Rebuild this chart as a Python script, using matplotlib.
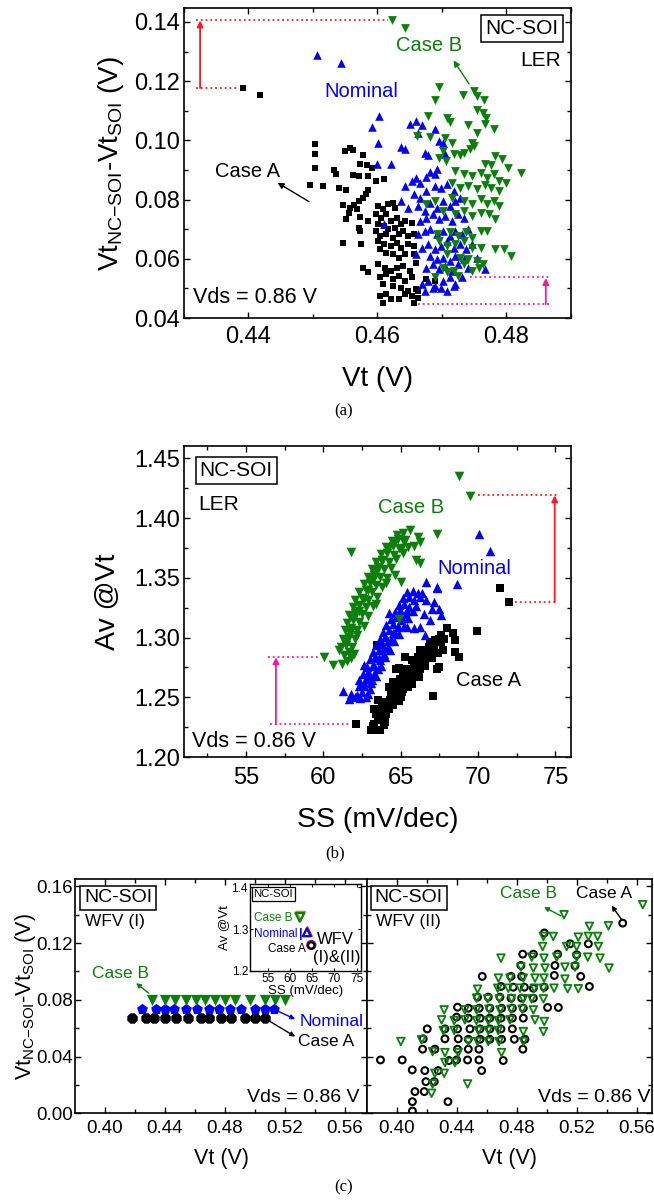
import numpy as np
import matplotlib
matplotlib.use('Agg')
import matplotlib.pyplot as plt
from matplotlib.ticker import MultipleLocator

plt.rcParams['font.family'] = ['Liberation Sans', 'DejaVu Sans']
plt.rcParams['mathtext.fontset'] = 'custom'
plt.rcParams['mathtext.rm'] = 'Liberation Sans'
plt.rcParams['mathtext.it'] = 'Liberation Sans:italic'
plt.rcParams['mathtext.bf'] = 'Liberation Sans:bold'

GREEN = '#0a800a'
BLUE = '#0000ff'
RED = '#ff1a1a'
PINK = '#ff1493'

# ---------------- Panel (a): Vt vs dVt (LER) ----------------
a_caseA = [(0.4392,0.1177),(0.4418,0.1155),
 (0.4503,0.0989),(0.4503,0.0953),(0.4503,0.0908),(0.4495,0.0849),(0.4516,0.0846),
 (0.4532,0.0900),(0.4536,0.0885),(0.4540,0.0840),(0.4551,0.0831),
 (0.4558,0.0975),(0.4549,0.0964),(0.4562,0.0966),(0.4578,0.0950),
 (0.4573,0.0921),(0.4584,0.0917),(0.4591,0.0908),
 (0.4562,0.0883),(0.4571,0.0880),(0.4585,0.0880),
 (0.4598,0.0863),(0.4610,0.0868),
 (0.4586,0.0831),(0.4582,0.0818),(0.4577,0.0807),(0.4572,0.0795),(0.4564,0.0782),(0.4558,0.0773),
 (0.4546,0.0782),(0.4556,0.0756),(0.4551,0.0733),
 (0.4569,0.0767),(0.4573,0.0741),(0.4585,0.0728),
 (0.4546,0.0655),(0.4575,0.0649),
 (0.4572,0.0705),(0.4573,0.0694),
 (0.4601,0.0778),(0.4608,0.0767),(0.4617,0.0784),(0.4624,0.0790),(0.4627,0.0773),
 (0.4598,0.0750),(0.4605,0.0739),(0.4614,0.0750),(0.4621,0.0728),(0.4630,0.0739),
 (0.4601,0.0719),(0.4610,0.0711),(0.4617,0.0700),(0.4627,0.0705),(0.4636,0.0717),(0.4643,0.0728),(0.4653,0.0722),
 (0.4598,0.0694),(0.4604,0.0677),(0.4614,0.0683),(0.4624,0.0672),(0.4634,0.0683),(0.4640,0.0694),(0.4647,0.0677),(0.4656,0.0683),
 (0.4601,0.0660),(0.4610,0.0649),(0.4621,0.0644),(0.4630,0.0655),(0.4637,0.0638),(0.4647,0.0649),(0.4656,0.0644),
 (0.4604,0.0632),(0.4614,0.0621),(0.4624,0.0615),(0.4634,0.0604),(0.4643,0.0615),(0.4656,0.0615),
 (0.4578,0.0570),(0.4586,0.0554),(0.4601,0.0582),(0.4611,0.0570),(0.4621,0.0559),(0.4630,0.0570),(0.4640,0.0576),(0.4650,0.0559),(0.4660,0.0587),
 (0.4604,0.0537),(0.4614,0.0548),(0.4624,0.0531),(0.4634,0.0542),(0.4643,0.0526),(0.4653,0.0537),
 (0.4608,0.0514),(0.4624,0.0509),(0.4637,0.0503),(0.4647,0.0492),(0.4660,0.0497),
 (0.4604,0.0475),(0.4614,0.0481),(0.4621,0.0464),(0.4634,0.0464),(0.4643,0.0481),(0.4653,0.0475),(0.4663,0.0492),(0.4663,0.0469),(0.4656,0.0452),
 (0.4608,0.0452),(0.4676,0.0531),(0.4689,0.0526)]

a_nominal = [(0.4507,0.1290),(0.4543,0.1260),
 (0.4603,0.1082),(0.4591,0.1045),(0.4601,0.0992),(0.4600,0.0921),(0.4621,0.0921),
 (0.4650,0.1056),(0.4660,0.1067),(0.4669,0.1052),(0.4689,0.1037),(0.4663,0.1026),
 (0.4637,0.0979),(0.4642,0.0970),(0.4673,0.0958),(0.4679,0.0950),(0.4695,0.0998),(0.4702,0.0992),(0.4705,0.0953),
 (0.4642,0.0846),(0.4653,0.0863),(0.4660,0.0874),(0.4666,0.0857),(0.4676,0.0876),(0.4682,0.0894),(0.4689,0.0885),(0.4692,0.0902),
 (0.4637,0.0795),(0.4656,0.0818),(0.4666,0.0807),(0.4676,0.0829),(0.4689,0.0846),(0.4699,0.0840),(0.4708,0.0854),(0.4718,0.0829),
 (0.4647,0.0773),(0.4663,0.0778),(0.4673,0.0762),(0.4682,0.0790),(0.4692,0.0773),(0.4702,0.0795),(0.4712,0.0778),(0.4721,0.0795),(0.4728,0.0807),
 (0.4610,0.0719),(0.4666,0.0728),(0.4676,0.0739),(0.4686,0.0750),(0.4695,0.0733),(0.4705,0.0745),(0.4715,0.0728),(0.4725,0.0750),(0.4734,0.0739),
 (0.4663,0.0683),(0.4673,0.0694),(0.4682,0.0700),(0.4692,0.0683),(0.4702,0.0694),(0.4712,0.0677),(0.4721,0.0694),(0.4731,0.0683),(0.4741,0.0700),
 (0.4669,0.0638),(0.4679,0.0649),(0.4689,0.0632),(0.4699,0.0644),(0.4708,0.0660),(0.4718,0.0638),(0.4728,0.0649),(0.4737,0.0632),(0.4747,0.0649),
 (0.4660,0.0615),(0.4682,0.0610),(0.4692,0.0599),(0.4702,0.0604),(0.4712,0.0593),(0.4721,0.0610),(0.4734,0.0599),(0.4754,0.0604),
 (0.4676,0.0570),(0.4686,0.0582),(0.4695,0.0565),(0.4705,0.0576),(0.4715,0.0559),(0.4725,0.0582),(0.4741,0.0570),(0.4767,0.0565),
 (0.4669,0.0514),(0.4679,0.0526),(0.4689,0.0509),(0.4702,0.0526),(0.4712,0.0537),(0.4721,0.0514),(0.4731,0.0537),
 (0.4673,0.0492),(0.4686,0.0503),(0.4699,0.0503),(0.4708,0.0492),(0.4718,0.0509)]

a_caseB = [(0.4623,0.1408),(0.4643,0.1378),
 (0.4695,0.1180),(0.4689,0.1138),(0.4733,0.1153),(0.4750,0.1168),(0.4754,0.1149),(0.4765,0.1135),
 (0.4679,0.1082),(0.4708,0.1076),(0.4713,0.1063),(0.4754,0.1101),(0.4763,0.1093),(0.4768,0.1076),(0.4741,0.1052),(0.4767,0.1056),(0.4781,0.1039),(0.4754,0.1026),
 (0.4662,0.1014),(0.4682,0.1011),(0.4705,0.1007),(0.4715,0.0992),(0.4746,0.0992),(0.4749,0.0981),(0.4744,0.0970),
 (0.4702,0.0964),(0.4718,0.0953),(0.4728,0.0950),(0.4734,0.0958),(0.4695,0.0941),(0.4707,0.0930),
 (0.4783,0.0947),(0.4793,0.0936),(0.4767,0.0921),(0.4776,0.0917),(0.4802,0.0908),(0.4822,0.0891),
 (0.4721,0.0896),(0.4734,0.0885),(0.4747,0.0880),(0.4760,0.0891),(0.4770,0.0874),(0.4780,0.0885),(0.4789,0.0863),(0.4799,0.0857),
 (0.4715,0.0857),(0.4728,0.0840),(0.4741,0.0846),(0.4754,0.0835),(0.4767,0.0851),(0.4776,0.0840),(0.4789,0.0829),
 (0.4676,0.0784),(0.4689,0.0795),(0.4715,0.0807),(0.4734,0.0795),(0.4747,0.0784),(0.4760,0.0801),(0.4770,0.0784),(0.4780,0.0795),(0.4789,0.0778),
 (0.4702,0.0762),(0.4721,0.0750),(0.4734,0.0762),(0.4747,0.0745),(0.4760,0.0756),(0.4773,0.0750),(0.4783,0.0733),
 (0.4692,0.0683),(0.4712,0.0689),(0.4725,0.0677),(0.4737,0.0689),(0.4747,0.0672),(0.4760,0.0694),(0.4770,0.0694),
 (0.4695,0.0660),(0.4708,0.0644),(0.4721,0.0649),(0.4734,0.0660),(0.4747,0.0638),(0.4760,0.0638),(0.4783,0.0632),(0.4796,0.0632),(0.4807,0.0610),
 (0.4708,0.0615),(0.4728,0.0604),(0.4741,0.0599),(0.4754,0.0593),(0.4763,0.0582),
 (0.4702,0.0570),(0.4718,0.0559),(0.4734,0.0582),(0.4747,0.0559),(0.4757,0.0570),
 (0.4689,0.0537),(0.4708,0.0554),(0.4725,0.0542)]

# ---------------- Panel (b): SS vs Av (LER) ----------------
b_caseA = [(71.41,1.3416),(72.03,1.3299),(69.93,1.3053),(67.10,1.2509),(62.14,1.2274),
 (63.09,1.2229),(63.41,1.2224),(63.68,1.2229),(63.27,1.2279),(63.54,1.2307),(63.89,1.2321),(63.41,1.2363),(63.73,1.2391),(64.08,1.2363),(64.22,1.2405),(63.81,1.2447),(64.16,1.2461),(64.49,1.2433),(63.54,1.2475),(64.62,1.2489),(64.35,1.2525),(64.76,1.2531),(65.03,1.2503),(64.22,1.2587),(64.62,1.2573),(64.89,1.2601),(65.16,1.2573),(65.29,1.2615),(64.49,1.2629),(64.97,1.2657),(65.43,1.2643),(65.70,1.2615),(65.16,1.2685),(65.56,1.2698),(65.83,1.2671),(66.10,1.2712),(64.89,1.2749),(65.43,1.2740),(65.83,1.2754),(66.24,1.2740),(66.37,1.2782),(65.97,1.2796),(65.70,1.2816),(66.10,1.2838),(66.51,1.2824),(66.78,1.2866),(66.37,1.2880),(66.64,1.2900),(66.91,1.2922),(67.18,1.2894),(67.05,1.2950),(67.32,1.2964),(67.45,1.2992),(67.59,1.3020),(66.91,1.2964),(67.32,1.2740),(67.45,1.2754),(67.99,1.3076),(68.39,1.3034),(68.53,1.2978),(68.48,1.2880),(68.80,1.2838),(65.29,1.2838),(66.24,1.2894),(63.49,1.2936),(64.70,1.2740),(67.72,1.2894),
 (63.2,1.226),(63.6,1.234),(63.9,1.238),(64.0,1.246),(64.3,1.248),(64.5,1.254),(64.7,1.258),(65.0,1.262),(65.2,1.264),(65.4,1.268),(65.6,1.272),(65.9,1.276),(66.0,1.280),(66.3,1.284),(66.5,1.286),(66.8,1.292),(67.0,1.294),(67.2,1.298),(64.0,1.229),(63.9,1.2265),(65.1,1.2545),(65.5,1.259),(66.6,1.276),(67.0,1.283),(67.4,1.287),(63.3,1.2405),(64.9,1.247),(66.2,1.267),(67.6,1.296),(67.8,1.299)]

b_nominal = [(70.07,1.3863),(70.74,1.3726),(68.66,1.3447),(66.64,1.3461),(67.32,1.3425),(67.37,1.3411),
 (61.25,1.2553),(61.66,1.2489),(62.06,1.2503),(62.38,1.2497),(62.73,1.2503),(62.87,1.2531),(62.47,1.2545),(62.28,1.2592),(62.65,1.2592),(63.00,1.2573),(62.33,1.2643),(62.73,1.2657),(63.14,1.2643),(62.55,1.2698),(62.92,1.2712),(63.27,1.2698),(62.82,1.2754),(63.19,1.2768),(63.54,1.2740),(63.00,1.2824),(63.35,1.2838),(63.68,1.2810),(63.22,1.2880),(63.60,1.2894),(63.95,1.2866),(63.41,1.2936),(63.81,1.2950),(64.16,1.2922),(63.68,1.2992),(64.00,1.3006),(64.35,1.2978),(63.89,1.3048),(64.22,1.3062),(64.62,1.3034),(64.08,1.3103),(64.49,1.3117),(64.81,1.3089),(64.35,1.3159),(64.70,1.3173),(65.03,1.3145),(64.62,1.3215),(64.97,1.3229),(65.29,1.3201),(64.89,1.3271),(65.24,1.3285),(65.56,1.3257),(65.16,1.3327),(65.51,1.3341),(65.83,1.3313),(65.43,1.3383),(65.78,1.3391),(66.10,1.3369),(66.24,1.3341),(66.37,1.3369),(66.64,1.3313),(67.18,1.3299),(67.45,1.3243),(67.05,1.3243),(67.59,1.3187),(66.24,1.3089),(65.83,1.3076),(65.43,1.3089),(64.22,1.3207),(62.60,1.2768),
 (63.1,1.262),(63.4,1.268),(63.7,1.276),(64.0,1.284),(64.3,1.290),(64.6,1.297),(64.9,1.303),(65.2,1.310),(65.5,1.316),(65.8,1.322),(66.0,1.326),(62.2,1.252),(62.6,1.262),(63.0,1.268),(63.3,1.276),(63.6,1.283),(63.9,1.291),(64.2,1.297),(64.5,1.304),(64.8,1.310),(65.1,1.316),(65.4,1.322),(66.5,1.320),(66.9,1.315),(66.6,1.302),(61.8,1.253)]

b_caseB = [(68.80,1.4352),(69.47,1.4184),(61.79,1.3718),(67.37,1.3866),(64.89,1.3159),
 (60.04,1.2838),(60.63,1.2768),(61.20,1.2782),(61.52,1.2805),(61.79,1.2833),(61.31,1.2852),(61.66,1.2880),(62.01,1.2866),(61.12,1.2922),(61.47,1.2936),(61.85,1.2922),(61.25,1.2992),(61.66,1.3006),(62.06,1.2992),(61.39,1.3062),(61.79,1.3076),(62.20,1.3062),(61.52,1.3123),(61.93,1.3145),(62.33,1.3131),(61.66,1.3187),(62.06,1.3207),(62.47,1.3201),(61.93,1.3257),(62.33,1.3271),(62.73,1.3257),(62.06,1.3313),(62.47,1.3327),(62.87,1.3313),(62.33,1.3383),(62.73,1.3397),(63.14,1.3383),(62.60,1.3447),(63.00,1.3458),(63.41,1.3439),(62.87,1.3508),(63.27,1.3522),(63.68,1.3508),(63.14,1.3570),(63.54,1.3587),(63.95,1.3570),(63.41,1.3634),(63.81,1.3648),(64.22,1.3634),(63.73,1.3698),(64.14,1.3710),(64.54,1.3690),(64.08,1.3760),(64.49,1.3765),(64.89,1.3746),(64.43,1.3810),(64.81,1.3821),(65.24,1.3802),(64.76,1.3858),(65.16,1.3872),(65.62,1.3900),(66.10,1.3844),(66.24,1.3802),(65.83,1.3765),(65.16,1.3704),(65.97,1.3648),(66.24,1.3620),(65.03,1.3467),(64.62,1.3522),(64.08,1.3453),(63.41,1.3285),
 (62.2,1.302),(62.6,1.310),(62.9,1.318),(63.2,1.326),(63.5,1.334),(63.8,1.342),(64.1,1.350),(64.4,1.358),(64.7,1.366),(65.0,1.374),(65.3,1.382),(61.0,1.290),(61.4,1.296),(61.7,1.304),(62.0,1.316),(62.3,1.322),(62.6,1.332),(62.9,1.340),(63.2,1.348),(63.5,1.356),(63.8,1.364),(64.2,1.374),(64.6,1.380),(65.5,1.376)]

# ---------------- Panel (c) left: WFV (I) ----------------
c1_caseA_vt = [0.4184,0.4273,0.4329,0.4399,0.4474,0.4557,0.4641,0.4697,0.4772,0.4842,0.4934,0.5003,0.5065]
c1_caseA_dvt = [0.0671]*13
c1_nominal_vt = [0.4251,0.4340,0.4399,0.4463,0.4538,0.4613,0.4697,0.4764,0.4831,0.4906,0.4998,0.5068,0.5129]
c1_nominal_dvt = [0.0736]*13
c1_caseB_vt = [0.4315,0.4404,0.4468,0.4538,0.4605,0.4669,0.4733,0.4800,0.4867,0.4967,0.5065,0.5132,0.5199]
c1_caseB_dvt = [0.0800]*13

# inset: SS vs Av for WFV (I) and (II)
inset_ss_I = [62.4, 63.9, 64.8]
inset_av_I = [1.331, 1.294, 1.262]
inset_ss_II = [62.2, 63.8, 64.8]
inset_av_II = [1.328, 1.292, 1.261]

# ---------------- Panel (c) right: WFV (II) ----------------
c2_caseA = [(0.5506,0.1341),(0.4983,0.1271),(0.5155,0.1195),(0.5277,0.1195),(0.4839,0.1122),(0.4910,0.1122),(0.5072,0.1122),(0.5199,0.1118),
 (0.4827,0.1042),(0.5054,0.1042),(0.5188,0.1040),(0.4569,0.0965),(0.4761,0.0965),(0.4832,0.0965),(0.5050,0.0972),(0.5226,0.0965),
 (0.4694,0.0894),(0.4776,0.0889),(0.4850,0.0889),(0.4910,0.0882),(0.4983,0.0889),(0.5284,0.0894),
 (0.4538,0.0819),(0.4609,0.0819),(0.4687,0.0819),(0.4761,0.0812),(0.4832,0.0812),(0.4910,0.0812),(0.5005,0.0746),(0.5077,0.0746),
 (0.4404,0.0748),(0.4476,0.0741),(0.4549,0.0741),(0.4620,0.0741),(0.4698,0.0741),(0.4770,0.0741),(0.4843,0.0741),
 (0.4398,0.0678),(0.4476,0.0671),(0.4554,0.0671),(0.4620,0.0671),(0.4694,0.0671),(0.4770,0.0671),(0.4843,0.0671),
 (0.4202,0.0595),(0.4320,0.0595),(0.4404,0.0595),(0.4487,0.0595),(0.4554,0.0595),(0.4620,0.0595),(0.4694,0.0595),(0.4770,0.0595),
 (0.4175,0.0525),(0.4320,0.0525),(0.4409,0.0525),(0.4476,0.0522),(0.4554,0.0522),(0.4620,0.0522),(0.4698,0.0522),(0.4783,0.0522),(0.4854,0.0522),
 (0.4171,0.0452),(0.4253,0.0452),(0.4404,0.0452),(0.4476,0.0452),(0.4547,0.0452),(0.4840,0.0452),
 (0.3890,0.0376),(0.4035,0.0376),(0.4347,0.0372),(0.4398,0.0376),(0.4471,0.0376),(0.4547,0.0376),(0.4709,0.0372),
 (0.4102,0.0306),(0.4186,0.0301),(0.4275,0.0301),(0.4565,0.0301),(0.4193,0.0223),(0.4249,0.0223),
 (0.4120,0.0153),(0.4182,0.0153),(0.4103,0.0082),(0.4103,0.0016),(0.4340,0.0082)]

c2_caseB = [(0.5640,0.1471),(0.5115,0.1400),(0.5284,0.1318),(0.5411,0.1322),(0.4977,0.1247),(0.5043,0.1247),(0.5210,0.1242),(0.5277,0.1247),(0.5339,0.1247),
 (0.4972,0.1176),(0.5132,0.1176),(0.5199,0.1176),(0.5344,0.1176),
 (0.4899,0.1101),(0.4981,0.1094),(0.5066,0.1101),(0.5199,0.1101),(0.5273,0.1101),(0.5355,0.1094),(0.4694,0.1094),
 (0.4827,0.1031),(0.4910,0.1024),(0.4988,0.1024),(0.5121,0.1031),(0.5188,0.1031),(0.5415,0.1024),
 (0.4677,0.0953),(0.4754,0.0953),(0.4843,0.0953),(0.4921,0.0953),(0.4981,0.0953),(0.5121,0.0946),
 (0.4672,0.0882),(0.4743,0.0882),(0.4821,0.0882),(0.4916,0.0882),(0.4977,0.0882),(0.5048,0.0882),(0.5139,0.0878),(0.5210,0.0878),(0.4538,0.0875),
 (0.4531,0.0812),(0.4605,0.0807),(0.4683,0.0807),(0.4765,0.0807),(0.4843,0.0807),(0.4899,0.0807),(0.4977,0.0807),
 (0.4315,0.0729),(0.4453,0.0729),(0.4531,0.0729),(0.4614,0.0734),(0.4687,0.0729),(0.4761,0.0734),(0.4836,0.0734),(0.4910,0.0729),
 (0.4298,0.0659),(0.4382,0.0654),(0.4453,0.0659),(0.4531,0.0654),(0.4609,0.0654),(0.4676,0.0654),(0.4754,0.0659),(0.4921,0.0659),(0.4983,0.0647),
 (0.4309,0.0584),(0.4382,0.0584),(0.4543,0.0584),(0.4609,0.0584),(0.4676,0.0584),(0.4843,0.0576),(0.4977,0.0576),
 (0.4164,0.0518),(0.4026,0.0506),(0.4238,0.0435),(0.4320,0.0428),(0.4409,0.0428),(0.4476,0.0506),(0.4538,0.0506),(0.4609,0.0506),(0.4681,0.0506),(0.4843,0.0506),(0.4698,0.0428),
 (0.4320,0.0358),(0.4387,0.0358),(0.4253,0.0282),(0.4315,0.0282),(0.4471,0.0207),(0.4238,0.0207),(0.4231,0.0141)]


def style(ax, xmaj, xmin, ymaj, ymin, lsize, xpad, ypad):
    ax.xaxis.set_major_locator(MultipleLocator(xmaj))
    ax.xaxis.set_minor_locator(MultipleLocator(xmin))
    ax.yaxis.set_major_locator(MultipleLocator(ymaj))
    ax.yaxis.set_minor_locator(MultipleLocator(ymin))
    ax.tick_params(which='both', direction='in', top=True, right=True, width=1.0)
    ax.tick_params(which='major', length=4.5, labelsize=lsize)
    ax.tick_params(which='minor', length=3)
    ax.tick_params(axis='x', pad=xpad)
    ax.tick_params(axis='y', pad=ypad)
    for s in ax.spines.values():
        s.set_linewidth(1.2)


def arrow(ax, tail, head, color, lw=1.0, ms=9):
    ax.annotate('', xy=head, xytext=tail,
                arrowprops=dict(arrowstyle='-|>', color=color, lw=lw,
                                mutation_scale=ms, shrinkA=0, shrinkB=0))


box = dict(boxstyle='square,pad=0.2', fc='white', ec='black', lw=1.1)
ylab = r'Vt$_{\rm NC{-}SOI}$-Vt$_{\rm SOI}$ (V)'

fig = plt.figure(figsize=(6.54, 12.02), dpi=100)

# ===== (a) =====
ax = fig.add_axes([0.2813, 0.7354, 0.5917, 0.2579])
A = np.array(a_caseA); N = np.array(a_nominal); B = np.array(a_caseB)
ax.scatter(A[:, 0], A[:, 1], marker='s', s=24, c='black', linewidths=0)
ax.scatter(N[:, 0], N[:, 1], marker='^', s=38, c=BLUE, linewidths=0)
ax.scatter(B[:, 0], B[:, 1], marker='v', s=40, c=GREEN, linewidths=0)
ax.set_xlim(0.43, 0.49)
ax.set_ylim(0.04, 0.1447)
style(ax, 0.02, 0.01, 0.02, 0.01, 17, 6, 3)
ax.set_xlabel('Vt (V)', fontsize=20)
ax.set_ylabel(ylab, fontsize=20)
ax.xaxis.set_label_coords(0.5, -0.155)
ax.yaxis.set_label_coords(-0.15, 0.5)
ax.text(0.4824, 0.1378, 'NC-SOI', ha='center', va='center', fontsize=15, bbox=box)
ax.text(0.4884, 0.1270, 'LER', ha='right', va='center', fontsize=15)
ax.text(0.4680, 0.1320, 'Case B', ha='center', va='center', fontsize=14.5, color=GREEN)
arrow(ax, (0.4742, 0.1191), (0.4718, 0.1270), GREEN)
ax.text(0.4575, 0.1164, 'Nominal', ha='center', va='center', fontsize=14.5, color=BLUE)
ax.text(0.4399, 0.0896, 'Case A', ha='center', va='center', fontsize=14.5, color='black')
arrow(ax, (0.4494, 0.0793), (0.4445, 0.0857), 'black')
ax.text(0.4314, 0.0469, 'Vds = 0.86 V', ha='left', va='center', fontsize=15.5)
ax.plot([0.4319, 0.4617], [0.1408, 0.1408], ls=':', color=RED, lw=1.3)
ax.plot([0.4319, 0.4384], [0.1177, 0.1177], ls=':', color=RED, lw=1.3)
arrow(ax, (0.4325, 0.1177), (0.4325, 0.1405), RED, lw=1.3)
ax.plot([0.4744, 0.4867], [0.0537, 0.0537], ls=':', color=PINK, lw=1.3)
ax.plot([0.4663, 0.4867], [0.0447, 0.0447], ls=':', color=PINK, lw=1.3)
arrow(ax, (0.4861, 0.0447), (0.4861, 0.0535), PINK, lw=1.3)
fig.text(0.525, 1 - 411 / 1202, '(a)', ha='center', va='center', fontsize=12, family='Liberation Serif')

# ===== (b) =====
ax = fig.add_axes([0.2813, 0.3702, 0.5917, 0.2587])
A = np.array(b_caseA); N = np.array(b_nominal); B = np.array(b_caseB)
ax.scatter(A[:, 0], A[:, 1], marker='s', s=34, c='black', linewidths=0)
ax.scatter(N[:, 0], N[:, 1], marker='^', s=46, c=BLUE, linewidths=0)
ax.scatter(B[:, 0], B[:, 1], marker='v', s=48, c=GREEN, linewidths=0)
ax.set_xlim(51, 76)
ax.set_ylim(1.20, 1.4603)
style(ax, 5, 2.5, 0.05, 0.025, 17, 7, 3)
ax.set_xlabel('SS (mV/dec)', fontsize=20.5)
ax.set_ylabel('Av @Vt', fontsize=20.5)
ax.xaxis.set_label_coords(0.5, -0.16)
ax.yaxis.set_label_coords(-0.163, 0.5)
ax.text(54.38, 1.440, 'NC-SOI', ha='center', va='center', fontsize=15, bbox=box)
ax.text(51.90, 1.411, 'LER', ha='left', va='center', fontsize=15)
ax.text(65.70, 1.409, 'Case B', ha='center', va='center', fontsize=14.5, color=GREEN)
ax.text(69.77, 1.358, 'Nominal', ha='center', va='center', fontsize=14.5, color=BLUE)
ax.text(70.69, 1.264, 'Case A', ha='center', va='center', fontsize=14.5, color='black')
ax.text(51.55, 1.2134, 'Vds = 0.86 V', ha='left', va='center', fontsize=15.5)
ax.plot([70.01, 75.13], [1.4193, 1.4193], ls=':', color=RED, lw=1.3)
ax.plot([72.36, 75.13], [1.3296, 1.3296], ls=':', color=RED, lw=1.3)
arrow(ax, (74.95, 1.3296), (74.95, 1.4190), RED, lw=1.3)
ax.plot([56.40, 59.77], [1.2838, 1.2838], ls=':', color=PINK, lw=1.3)
ax.plot([56.54, 61.66], [1.2274, 1.2274], ls=':', color=PINK, lw=1.3)
arrow(ax, (56.94, 1.2274), (56.94, 1.2835), PINK, lw=1.3)
fig.text(0.512, 1 - 853 / 1202, '(b)', ha='center', va='center', fontsize=12, family='Liberation Serif')

# ===== (c) left =====
ax = fig.add_axes([0.1153, 0.0738, 0.4463, 0.1947])
ax.scatter(c1_caseA_vt, c1_caseA_dvt, marker='8', s=66, c='black', linewidths=0, zorder=3)
ax.scatter(c1_nominal_vt, c1_nominal_dvt, marker='p', s=66, c=BLUE, linewidths=0, zorder=3)
ax.scatter(c1_caseB_vt, c1_caseB_dvt, marker='v', s=66, c=GREEN, linewidths=0, zorder=3)
ax.set_xlim(0.3805, 0.5748)
ax.set_ylim(0.0, 0.165)
style(ax, 0.04, 0.02, 0.04, 0.02, 13.5, 5, 2)
ax.set_xlabel('Vt (V)', fontsize=15.5)
ax.set_ylabel(ylab, fontsize=15.5)
ax.xaxis.set_label_coords(0.5, -0.15)
ax.yaxis.set_label_coords(-0.128, 0.5)
ax.text(0.4089, 0.1518, 'NC-SOI', ha='center', va='center', fontsize=14, bbox=box)
ax.text(0.3866, 0.1353, 'WFV (I)', ha='left', va='center', fontsize=12.5)
ax.text(0.4106, 0.0988, 'Case B', ha='center', va='center', fontsize=12.5, color=GREEN)
arrow(ax, (0.4293, 0.0847), (0.4209, 0.0918), GREEN, ms=7)
ax.text(0.5296, 0.0647, 'Nominal', ha='left', va='center', fontsize=12.5, color=BLUE)
arrow(ax, (0.5157, 0.0718), (0.5268, 0.0664), BLUE, ms=7)
ax.text(0.5288, 0.0503, 'Case A', ha='left', va='center', fontsize=12.5)
arrow(ax, (0.5101, 0.0647), (0.5268, 0.0541), 'black', ms=7)
ax.text(0.5695, 0.0111, 'Vds = 0.86 V', ha='right', va='center', fontsize=14)

# inset
ins = fig.add_axes([0.3823, 0.1922, 0.1697, 0.0724])
ins.scatter(inset_ss_I[0], inset_av_I[0], marker='v', s=40, facecolors='none', edgecolors='#b59a00', linewidths=1.5, zorder=3)
ins.scatter(inset_ss_II[0], inset_av_II[0], marker='v', s=40, facecolors='none', edgecolors=GREEN, linewidths=1.5, zorder=3)
ins.scatter(inset_ss_I[1], inset_av_I[1], marker='^', s=40, facecolors='none', edgecolors='red', linewidths=1.5, zorder=3)
ins.scatter(inset_ss_II[1], inset_av_II[1], marker='^', s=30, facecolors='none', edgecolors=BLUE, linewidths=1.5, zorder=3)
ins.scatter(inset_ss_I[2], inset_av_I[2], marker='o', s=34, facecolors='none', edgecolors='purple', linewidths=1.5, zorder=3)
ins.scatter(inset_ss_II[2], inset_av_II[2], marker='o', s=20, facecolors='none', edgecolors='black', linewidths=1.5, zorder=3)
ins.set_xlim(51, 76)
ins.set_ylim(1.2, 1.408)
ins.xaxis.set_major_locator(MultipleLocator(5))
ins.yaxis.set_major_locator(MultipleLocator(0.1))
ins.tick_params(direction='in', top=True, right=True, length=2.5, width=0.8, labelsize=8.5, pad=1.5)
for s in ins.spines.values():
    s.set_linewidth(1.0)
ins.set_xlabel('SS (mV/dec)', fontsize=9.5, labelpad=0)
ins.set_ylabel('Av @Vt', fontsize=9.5, labelpad=1)
ins.text(51.8, 1.384, 'NC-SOI', ha='left', va='center', fontsize=8.2,
         bbox=dict(boxstyle='square,pad=0.15', fc='white', ec='black', lw=0.9))
ins.text(60.5, 1.326, 'Case B', ha='right', va='center', fontsize=8.5, color=GREEN)
ins.text(61.6, 1.289, 'Nominal', ha='right', va='center', fontsize=8.5, color=BLUE)
ins.text(62.0, 1.289, '|', ha='left', va='center', fontsize=9, color=BLUE, fontweight='bold')
ins.text(63.5, 1.253, 'Case A', ha='right', va='center', fontsize=8.5)
ins.text(70.3, 1.275, 'WFV', ha='center', va='center', fontsize=12)
ins.text(70.6, 1.233, '(I)&(II)', ha='center', va='center', fontsize=12)

# ===== (c) right =====
ax = fig.add_axes([0.5616, 0.0738, 0.4361, 0.1947])
A = np.array(c2_caseA); B = np.array(c2_caseB)
ax.scatter(A[:, 0], A[:, 1], marker='o', s=24, facecolors='none', edgecolors='black', linewidths=1.5)
ax.scatter(B[:, 0], B[:, 1], marker='v', s=30, facecolors='none', edgecolors=GREEN, linewidths=1.3)
ax.set_xlim(0.3802, 0.5705)
ax.set_ylim(0.0, 0.165)
style(ax, 0.04, 0.02, 0.04, 0.02, 13.5, 5, 2)
ax.tick_params(labelleft=False)
ax.set_xlabel('Vt (V)', fontsize=15.5)
ax.xaxis.set_label_coords(0.5, -0.15)
ax.text(0.4078, 0.1518, 'NC-SOI', ha='center', va='center', fontsize=14, bbox=box)
ax.text(0.3861, 0.1353, 'WFV (II)', ha='left', va='center', fontsize=12.5)
ax.text(0.4875, 0.1548, 'Case B', ha='center', va='center', fontsize=12.5, color=GREEN)
arrow(ax, (0.5092, 0.1393), (0.4981, 0.1454), GREEN, ms=7)
ax.text(0.5385, 0.1548, 'Case A', ha='center', va='center', fontsize=12.5)
arrow(ax, (0.5497, 0.1369), (0.5432, 0.1464), 'black', ms=7)
ax.text(0.5690, 0.0111, 'Vds = 0.86 V', ha='right', va='center', fontsize=14)
fig.text(0.525, 1 - 1187 / 1202, '(c)', ha='center', va='center', fontsize=12, family='Liberation Serif')

fig.savefig('out.png', dpi=100)
